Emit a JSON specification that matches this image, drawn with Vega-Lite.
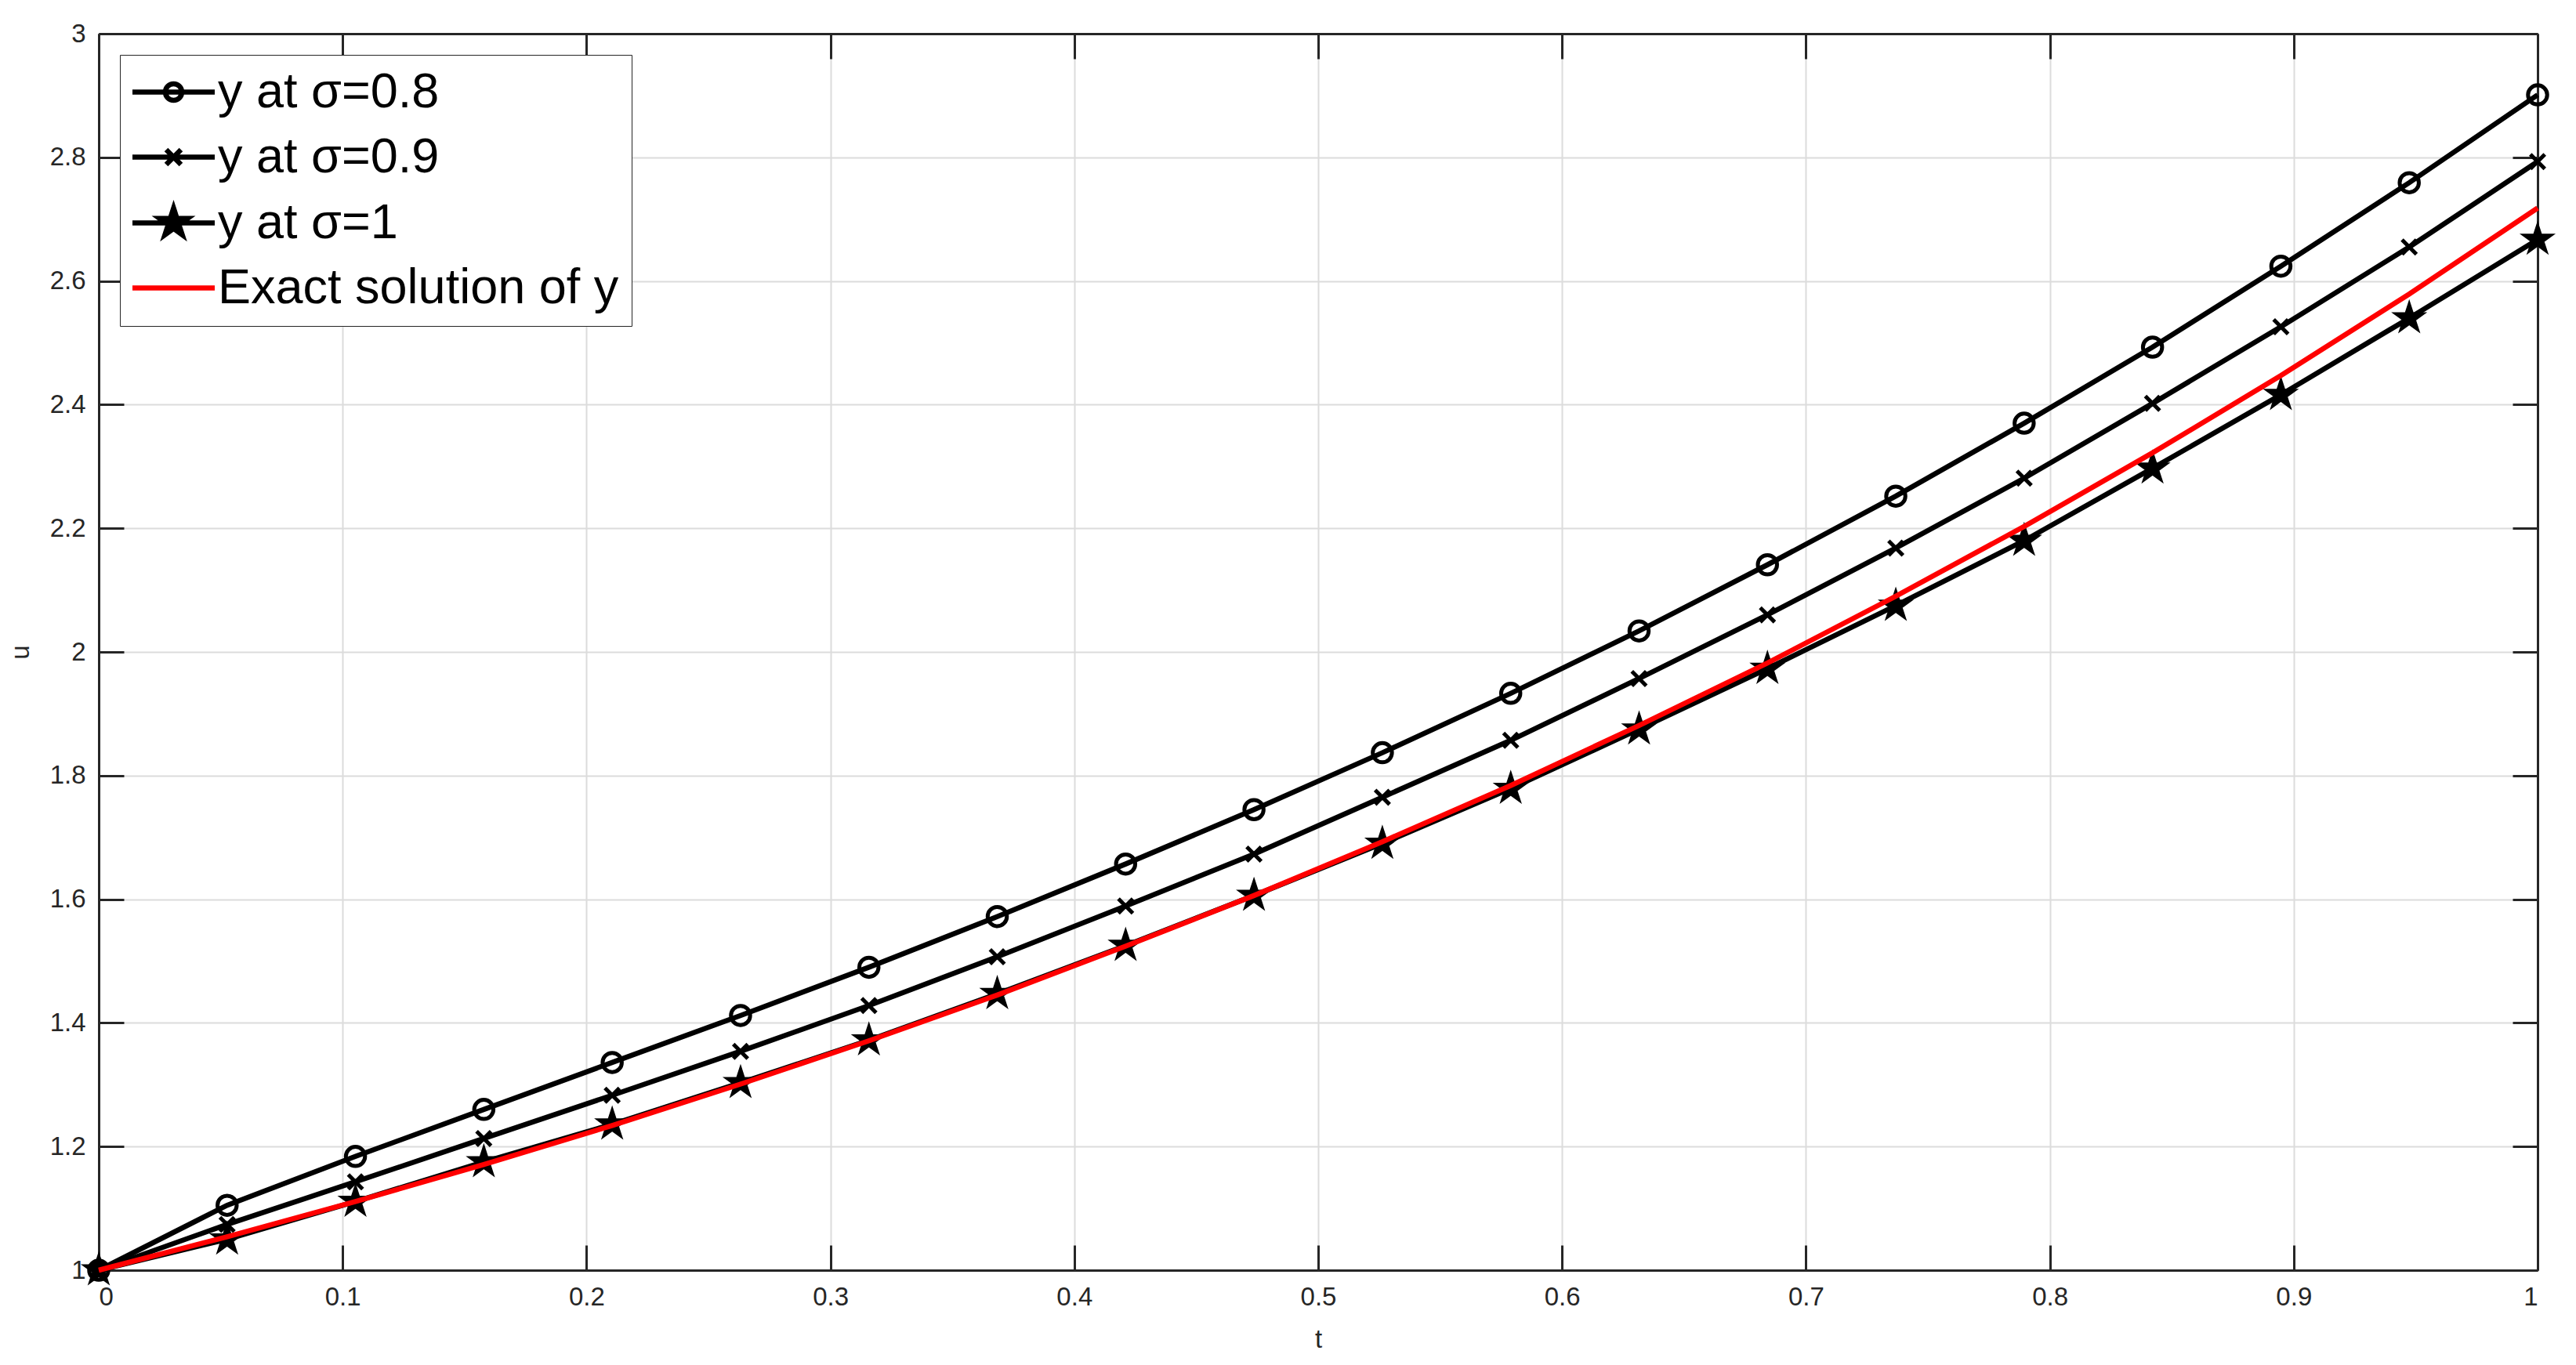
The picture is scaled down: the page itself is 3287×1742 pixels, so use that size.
{
  "$schema": "https://vega.github.io/schema/vega-lite/v6.json",
  "width": 3112,
  "height": 1578,
  "autosize": {"type": "none"},
  "padding": {"left": 126, "top": 43, "right": 49, "bottom": 121},
  "background": "white",
  "config": {
    "view": {"stroke": null},
    "axis": {
      "domainColor": "#262626", "domainWidth": 3,
      "tickColor": "#262626", "tickWidth": 3, "tickSize": -32,
      "gridColor": "#dcdcdc", "gridWidth": 2,
      "labelFont": "Liberation Sans", "labelFontSize": 33, "labelColor": "#262626",
      "titleFont": "Liberation Sans", "titleFontSize": 33, "titleColor": "#262626", "titleFontWeight": "normal"
    }
  },
  "data": {"values": [
    {"t": 0, "u": 1, "series": "y at σ=0.8"},
    {"t": 0.05263, "u": 1.105, "series": "y at σ=0.8"},
    {"t": 0.10526, "u": 1.184, "series": "y at σ=0.8"},
    {"t": 0.15789, "u": 1.260, "series": "y at σ=0.8"},
    {"t": 0.21053, "u": 1.336, "series": "y at σ=0.8"},
    {"t": 0.26316, "u": 1.412, "series": "y at σ=0.8"},
    {"t": 0.31579, "u": 1.490, "series": "y at σ=0.8"},
    {"t": 0.36842, "u": 1.572, "series": "y at σ=0.8"},
    {"t": 0.42105, "u": 1.657, "series": "y at σ=0.8"},
    {"t": 0.47368, "u": 1.745, "series": "y at σ=0.8"},
    {"t": 0.52632, "u": 1.837, "series": "y at σ=0.8"},
    {"t": 0.57895, "u": 1.933, "series": "y at σ=0.8"},
    {"t": 0.63158, "u": 2.034, "series": "y at σ=0.8"},
    {"t": 0.68421, "u": 2.141, "series": "y at σ=0.8"},
    {"t": 0.73684, "u": 2.252, "series": "y at σ=0.8"},
    {"t": 0.78947, "u": 2.370, "series": "y at σ=0.8"},
    {"t": 0.84211, "u": 2.493, "series": "y at σ=0.8"},
    {"t": 0.89474, "u": 2.624, "series": "y at σ=0.8"},
    {"t": 0.94737, "u": 2.759, "series": "y at σ=0.8"},
    {"t": 1, "u": 2.901, "series": "y at σ=0.8"},
    {"t": 0, "u": 1, "series": "y at σ=0.9"},
    {"t": 0.05263, "u": 1.074, "series": "y at σ=0.9"},
    {"t": 0.10526, "u": 1.143, "series": "y at σ=0.9"},
    {"t": 0.15789, "u": 1.213, "series": "y at σ=0.9"},
    {"t": 0.21053, "u": 1.283, "series": "y at σ=0.9"},
    {"t": 0.26316, "u": 1.354, "series": "y at σ=0.9"},
    {"t": 0.31579, "u": 1.428, "series": "y at σ=0.9"},
    {"t": 0.36842, "u": 1.507, "series": "y at σ=0.9"},
    {"t": 0.42105, "u": 1.589, "series": "y at σ=0.9"},
    {"t": 0.47368, "u": 1.673, "series": "y at σ=0.9"},
    {"t": 0.52632, "u": 1.765, "series": "y at σ=0.9"},
    {"t": 0.57895, "u": 1.857, "series": "y at σ=0.9"},
    {"t": 0.63158, "u": 1.957, "series": "y at σ=0.9"},
    {"t": 0.68421, "u": 2.060, "series": "y at σ=0.9"},
    {"t": 0.73684, "u": 2.168, "series": "y at σ=0.9"},
    {"t": 0.78947, "u": 2.281, "series": "y at σ=0.9"},
    {"t": 0.84211, "u": 2.402, "series": "y at σ=0.9"},
    {"t": 0.89474, "u": 2.526, "series": "y at σ=0.9"},
    {"t": 0.94737, "u": 2.655, "series": "y at σ=0.9"},
    {"t": 1, "u": 2.793, "series": "y at σ=0.9"},
    {"t": 0, "u": 1, "series": "y at σ=1"},
    {"t": 0.05263, "u": 1.050, "series": "y at σ=1"},
    {"t": 0.10526, "u": 1.111, "series": "y at σ=1"},
    {"t": 0.15789, "u": 1.175, "series": "y at σ=1"},
    {"t": 0.21053, "u": 1.236, "series": "y at σ=1"},
    {"t": 0.26316, "u": 1.303, "series": "y at σ=1"},
    {"t": 0.31579, "u": 1.372, "series": "y at σ=1"},
    {"t": 0.36842, "u": 1.447, "series": "y at σ=1"},
    {"t": 0.42105, "u": 1.525, "series": "y at σ=1"},
    {"t": 0.47368, "u": 1.606, "series": "y at σ=1"},
    {"t": 0.52632, "u": 1.690, "series": "y at σ=1"},
    {"t": 0.57895, "u": 1.779, "series": "y at σ=1"},
    {"t": 0.63158, "u": 1.875, "series": "y at σ=1"},
    {"t": 0.68421, "u": 1.973, "series": "y at σ=1"},
    {"t": 0.73684, "u": 2.075, "series": "y at σ=1"},
    {"t": 0.78947, "u": 2.180, "series": "y at σ=1"},
    {"t": 0.84211, "u": 2.297, "series": "y at σ=1"},
    {"t": 0.89474, "u": 2.416, "series": "y at σ=1"},
    {"t": 0.94737, "u": 2.540, "series": "y at σ=1"},
    {"t": 1, "u": 2.667, "series": "y at σ=1"},
    {"t": 0, "u": 1, "series": "Exact solution of y"},
    {"t": 0.05263, "u": 1.054, "series": "Exact solution of y"},
    {"t": 0.10526, "u": 1.111, "series": "Exact solution of y"},
    {"t": 0.15789, "u": 1.171, "series": "Exact solution of y"},
    {"t": 0.21053, "u": 1.234, "series": "Exact solution of y"},
    {"t": 0.26316, "u": 1.301, "series": "Exact solution of y"},
    {"t": 0.31579, "u": 1.371, "series": "Exact solution of y"},
    {"t": 0.36842, "u": 1.445, "series": "Exact solution of y"},
    {"t": 0.42105, "u": 1.524, "series": "Exact solution of y"},
    {"t": 0.47368, "u": 1.606, "series": "Exact solution of y"},
    {"t": 0.52632, "u": 1.693, "series": "Exact solution of y"},
    {"t": 0.57895, "u": 1.784, "series": "Exact solution of y"},
    {"t": 0.63158, "u": 1.881, "series": "Exact solution of y"},
    {"t": 0.68421, "u": 1.982, "series": "Exact solution of y"},
    {"t": 0.73684, "u": 2.090, "series": "Exact solution of y"},
    {"t": 0.78947, "u": 2.203, "series": "Exact solution of y"},
    {"t": 0.84211, "u": 2.322, "series": "Exact solution of y"},
    {"t": 0.89474, "u": 2.447, "series": "Exact solution of y"},
    {"t": 0.94737, "u": 2.579, "series": "Exact solution of y"},
    {"t": 1, "u": 2.718, "series": "Exact solution of y"}
  ]},
  "resolve": {"axis": {"x": "independent", "y": "independent"}},
  "layer": [
    {
      "transform": [{"filter": "datum.series !== 'Exact solution of y'"}],
      "mark": {"type": "line", "color": "#000000", "strokeWidth": 6.5, "clip": false},
      "encoding": {
        "x": {"field": "t", "type": "quantitative", "scale": {"domain": [0, 1], "nice": false, "zero": false},
          "axis": {"orient": "bottom", "values": [0, 0.1, 0.2, 0.3, 0.4, 0.5, 0.6, 0.7, 0.8, 0.9, 1], "format": "~g", "grid": true, "labelPadding": 50, "title": "t", "titlePadding": 21}},
        "y": {"field": "u", "type": "quantitative", "scale": {"domain": [1, 3], "nice": false, "zero": false},
          "axis": {"orient": "left", "values": [1, 1.2, 1.4, 1.6, 1.8, 2, 2.2, 2.4, 2.6, 2.8, 3], "format": "~g", "grid": true, "labelPadding": 49, "title": "u", "titlePadding": 20}},
        "detail": {"field": "series", "type": "nominal"}
      }
    },
    {
      "transform": [{"filter": "datum.series === 'y at σ=0.8'"}],
      "mark": {"type": "point", "shape": "circle", "filled": false, "stroke": "#000000", "strokeWidth": 5, "size": 600, "opacity": 1, "clip": false},
      "encoding": {
        "x": {"field": "t", "type": "quantitative", "axis": null},
        "y": {"field": "u", "type": "quantitative", "axis": null}
      }
    },
    {
      "transform": [{"filter": "datum.series === 'y at σ=0.9'"}],
      "mark": {"type": "point", "shape": "M-1,-1L1,1M-1,1L1,-1", "filled": false, "stroke": "#000000", "strokeWidth": 5, "size": 340, "opacity": 1, "clip": false},
      "encoding": {
        "x": {"field": "t", "type": "quantitative", "axis": null},
        "y": {"field": "u", "type": "quantitative", "axis": null}
      }
    },
    {
      "transform": [{"filter": "datum.series === 'y at σ=1'"}],
      "mark": {"type": "point", "shape": "M0,-1L0.2245,-0.309L0.951,-0.309L0.363,0.118L0.588,0.809L0,0.382L-0.588,0.809L-0.363,0.118L-0.951,-0.309L-0.2245,-0.309Z", "filled": true, "fill": "#000000", "stroke": "#000000", "strokeWidth": 2, "size": 1764, "opacity": 1, "clip": false},
      "encoding": {
        "x": {"field": "t", "type": "quantitative", "axis": null},
        "y": {"field": "u", "type": "quantitative", "axis": null}
      }
    },
    {
      "transform": [{"filter": "datum.series === 'Exact solution of y'"}],
      "mark": {"type": "line", "color": "#ff0000", "strokeWidth": 6.5, "clip": false},
      "encoding": {
        "x": {"field": "t", "type": "quantitative", "axis": null},
        "y": {"field": "u", "type": "quantitative", "axis": null}
      }
    },
    {
      "mark": {"type": "point", "opacity": 0, "size": 1764, "filled": false, "clip": false},
      "encoding": {
        "x": {"field": "t", "type": "quantitative",
          "axis": {"orient": "top", "values": [0, 0.1, 0.2, 0.3, 0.4, 0.5, 0.6, 0.7, 0.8, 0.9, 1], "labels": false, "grid": false, "title": null}},
        "y": {"field": "u", "type": "quantitative",
          "axis": {"orient": "right", "values": [1, 1.2, 1.4, 1.6, 1.8, 2, 2.2, 2.4, 2.6, 2.8, 3], "labels": false, "grid": false, "title": null}},
        "stroke": {
          "field": "series", "type": "nominal",
          "scale": {
            "domain": ["y at σ=0.8", "y at σ=0.9", "y at σ=1", "Exact solution of y"],
            "range": ["#000000", "#000000", "#000000", "#ff0000"]
          },
          "legend": null
        },
        "fill": {
          "field": "series", "type": "nominal",
          "scale": {
            "domain": ["y at σ=0.8", "y at σ=0.9", "y at σ=1", "Exact solution of y"],
            "range": ["transparent", "transparent", "#000000", "transparent"]
          },
          "legend": null
        },
        "shape": {
          "field": "series", "type": "nominal",
          "scale": {
            "domain": ["y at σ=0.8", "y at σ=0.9", "y at σ=1", "Exact solution of y"],
            "range": [
              "M-1.5,0H3.5M1.5,0A0.5,0.5 0 1,1 0.5,0A0.5,0.5 0 1,1 1.5,0",
              "M-1.5,0H3.5M0.55,-0.45L1.45,0.45M0.55,0.45L1.45,-0.45",
              "M-1.5,0H3.5M1,-0.9L1.202,-0.278L1.856,-0.278L1.327,0.106L1.529,0.728L1,0.344L0.471,0.728L0.673,0.106L0.144,-0.278L0.798,-0.278Z",
              "M-1.5,0H3.5"
            ]
          },
          "legend": {
            "title": null,
            "orient": "top-left",
            "offset": 27,
            "padding": 16,
            "strokeColor": "#262626",
            "fillColor": "#ffffff",
            "labelFont": "Liberation Sans",
            "labelFontSize": 63,
            "labelColor": "#000000",
            "labelOffset": 46,
            "labelLimit": 1000,
            "symbolSize": 1764,
            "symbolStrokeWidth": 6.5,
            "symbolOpacity": 1,
            "rowPadding": 19
          }
        }
      }
    }
  ]
}
